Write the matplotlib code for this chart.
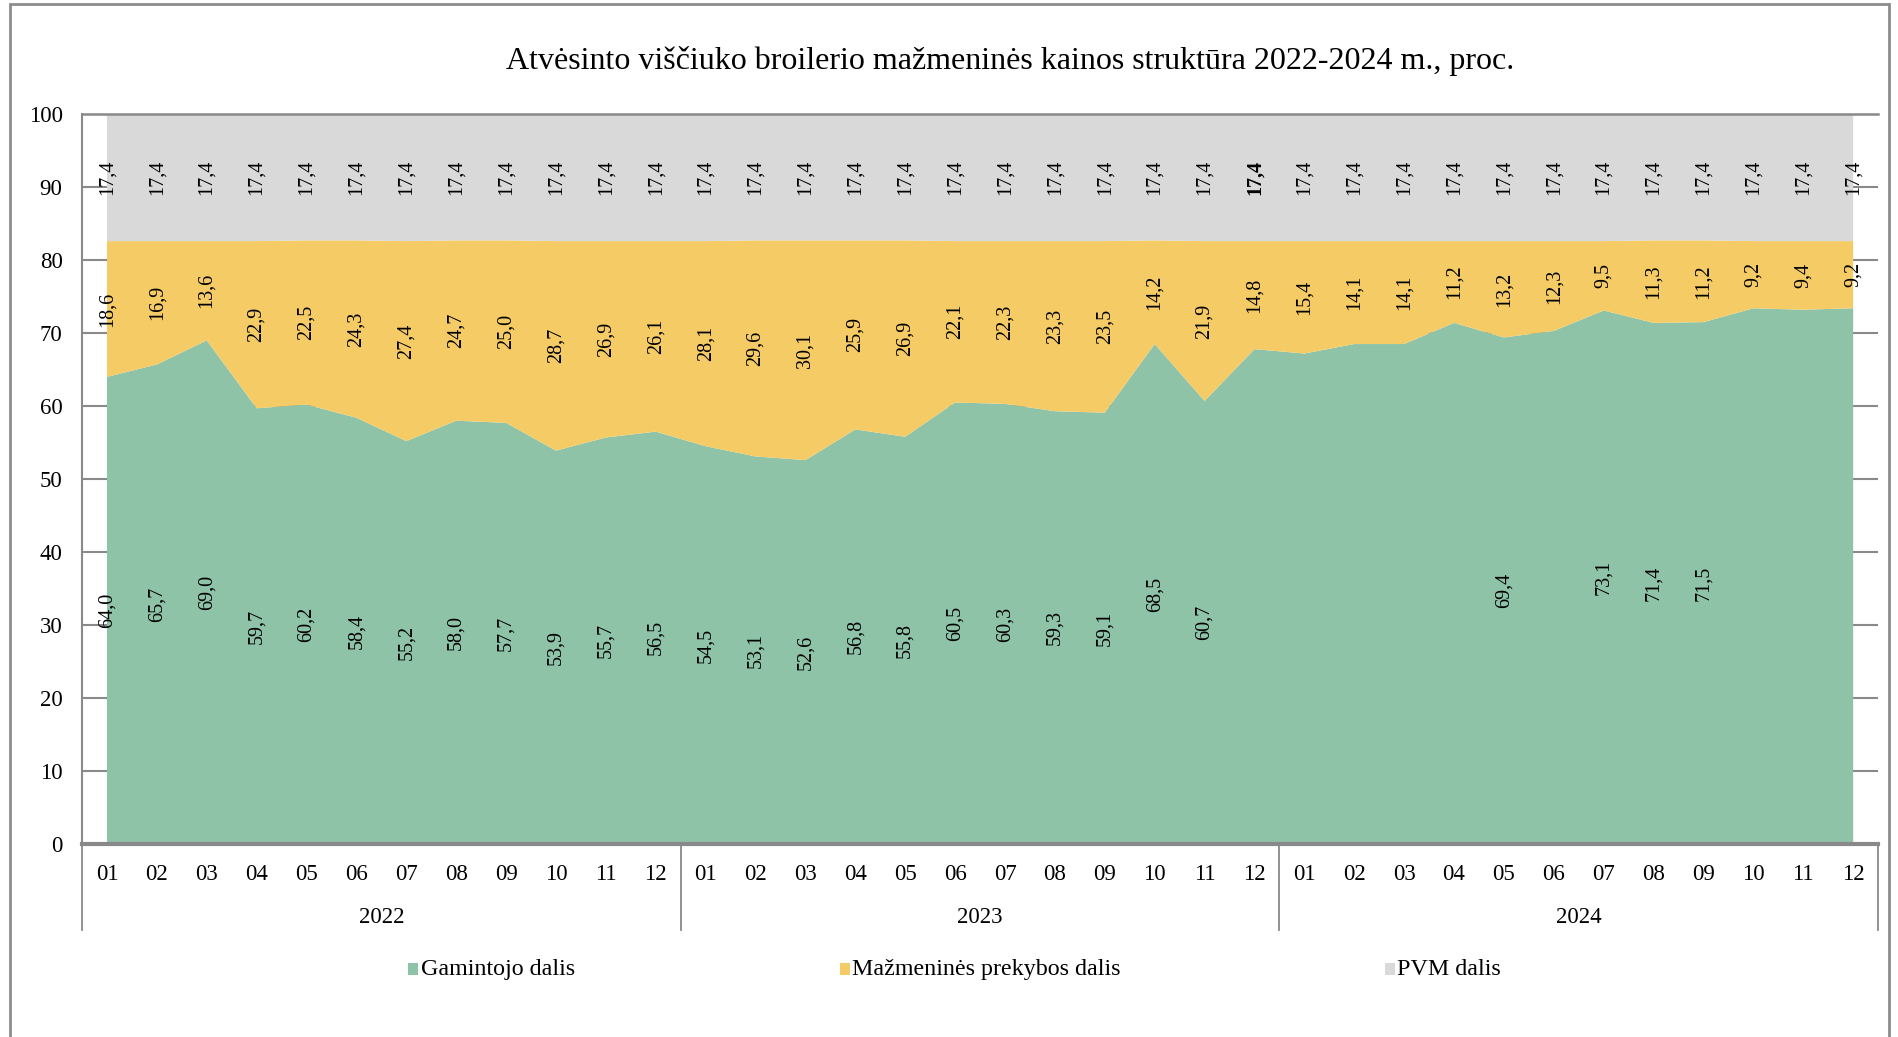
import matplotlib
matplotlib.use("Agg")
import matplotlib.pyplot as plt
import matplotlib.patches as mpatches
import matplotlib.transforms as mtransforms
import numpy as np

plt.rcParams["font.family"] = ["Liberation Serif", "DejaVu Serif"]

# ── data ────────────────────────────────────────────────────────────────
years = ["2022", "2023", "2024"]
months = ["01", "02", "03", "04", "05", "06", "07", "08", "09", "10", "11", "12"]

producer = [64.0, 65.7, 69.0, 59.7, 60.2, 58.4, 55.2, 58.0, 57.7, 53.9, 55.7, 56.5,
            54.5, 53.1, 52.6, 56.8, 55.8, 60.5, 60.3, 59.3, 59.1, 68.5, 60.7, 67.8,
            67.2, 68.5, 68.5, 71.4, 69.4, 70.3, 73.1, 71.4, 71.5, 73.4, 73.2, 73.4]
retail = [18.6, 16.9, 13.6, 22.9, 22.5, 24.3, 27.4, 24.7, 25.0, 28.7, 26.9, 26.1,
          28.1, 29.6, 30.1, 25.9, 26.9, 22.1, 22.3, 23.3, 23.5, 14.2, 21.9, 14.8,
          15.4, 14.1, 14.1, 11.2, 13.2, 12.3, 9.5, 11.3, 11.2, 9.2, 9.4, 9.2]
vat = [17.4] * 36
# producer labels that the source chart shows (others were hidden)
producer_shown = [1] * 23 + [0, 0, 0, 0, 0, 1, 0, 1, 1, 1, 0, 0, 0]

series_names = ["Gamintojo dalis", "Mažmeninės prekybos dalis", "PVM dalis"]
colors = ["#8EC3A8", "#F5CB66", "#D9D9D9"]
grid_c = "#898989"

x = np.arange(len(producer))
g = np.array(producer)
r = np.array(retail)
v = np.array(vat)


def fmt(val):
    return f"{val:.1f}".replace(".", ",")


fig = plt.figure(figsize=(18.99, 10.37), dpi=100)
ax = fig.add_axes([0.0432, 0.186, 0.9458, 0.704])

ax.stackplot(x, g, r, v, colors=colors, zorder=1)
ax.set_xlim(-0.5, len(x) - 0.5)
ax.set_ylim(0, 100)
ax.set_yticks(np.arange(0, 101, 10))
ax.yaxis.grid(True, color=grid_c, lw=1.5, zorder=0)
ax.set_axisbelow(True)
ax.tick_params(axis="y", length=0, pad=14, labelsize=16.5)

ax.set_xticks(x)
ax.set_xticklabels(months * len(years))
ax.tick_params(axis="x", length=0, pad=14, labelsize=16.5)

ax.spines["right"].set_visible(False)
ax.spines["left"].set_color(grid_c)
ax.spines["left"].set_linewidth(1.5)
ax.spines["top"].set_color(grid_c)
ax.spines["top"].set_linewidth(1.8)
ax.spines["bottom"].set_color(grid_c)
ax.spines["bottom"].set_linewidth(3)

# year separators and labels
trans = mtransforms.blended_transform_factory(ax.transData, ax.transAxes)
for i in range(len(years) + 1):
    xs = i * 12 - 0.5
    ax.plot([xs, xs], [0, -0.118], transform=trans, color=grid_c, lw=1.3, clip_on=False)
for i, yr in enumerate(years):
    ax.text(i * 12 + 5.5, -0.1, yr, transform=trans, ha="center", va="center",
            fontsize=16.5)

# data labels
lab_kw = dict(rotation=90, ha="center", va="center", fontsize=14.5, zorder=5)
for i in range(len(x)):
    if producer_shown[i]:
        ax.text(x[i], g[i] / 2, fmt(g[i]), **lab_kw)
    ax.text(x[i], g[i] + r[i] / 2, fmt(r[i]), **lab_kw)
    ax.text(x[i], g[i] + r[i] + v[i] / 2, fmt(v[i]),
            fontweight="bold" if i == 23 else "normal", **lab_kw)

# title
fig.text(0.532, 0.941, "Atvėsinto viščiuko broilerio mažmeninės kainos struktūra 2022-2024 m., proc.",
         ha="center", va="center", fontsize=23)

# legend
leg_x = [0.2215, 0.4488, 0.7357]
for lx, name, c in zip(leg_x, series_names, colors):
    fig.add_artist(mpatches.Rectangle((lx - 0.0065, 0.060), 0.0052, 0.011,
                                      transform=fig.transFigure, facecolor=c, edgecolor="none"))
    fig.text(lx, 0.0655, name, ha="left", va="center", fontsize=17.3)

# outer frame
fig.add_artist(mpatches.Rectangle((0.0055, -0.05), 0.989, 1.046, transform=fig.transFigure,
                                  facecolor="none", edgecolor="#8C8C8C", lw=2))

fig.savefig("out.png", dpi=100)
